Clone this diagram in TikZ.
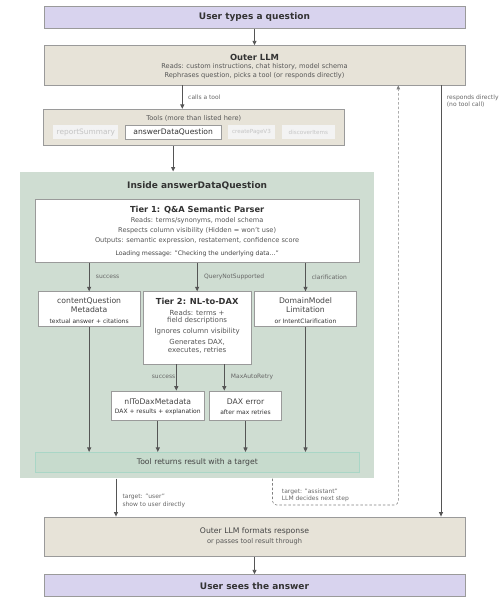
\documentclass[tikz,border=0pt]{standalone}
\usepackage{fontspec}
\setmainfont{DejaVu Sans}
\usetikzlibrary{arrows.meta}
\definecolor{lavfill}{HTML}{D8D3EE}
\definecolor{beigefill}{HTML}{E7E3D8}
\definecolor{greenfill}{HTML}{CFDDD2}
\definecolor{trfill}{HTML}{C7DBCD}
\definecolor{trborder}{HTML}{A9D6C6}
\definecolor{bordergray}{HTML}{9A9A9A}
\definecolor{linegray}{HTML}{555555}
\definecolor{titletext}{HTML}{333333}
\definecolor{maintext}{HTML}{444444}
\definecolor{bodytext}{HTML}{555555}
\definecolor{labeltext}{HTML}{666666}
\definecolor{chipfill}{HTML}{F3F3F3}
\definecolor{chiptext}{HTML}{C4C4C4}
\newcommand\fs[1]{\fontsize{#1}{#1}\selectfont}
\tikzset{
  box/.style={draw=bordergray, line width=0.8pt, inner sep=0pt},
  lavbox/.style={box, fill=lavfill},
  beigebox/.style={box, fill=beigefill},
  greenbox/.style={draw=none, fill=greenfill, inner sep=0pt},
  whitebox/.style={box, fill=white, line width=0.7pt},
  chip/.style={draw=none, fill=chipfill, inner sep=0pt},
  trbox/.style={draw=trborder, line width=0.7pt, fill=trfill, inner sep=0pt},
  bigtitle/.style={font=\fs{9}\bfseries, text=titletext, inner sep=0pt},
  tiertitle/.style={font=\fs{8.3}\bfseries, text=titletext, inner sep=0pt},
  mainline/.style={font=\fs{7.7}, text=maintext, inner sep=0pt},
  bodyline/.style={font=\fs{6.6}, text=bodytext, inner sep=0pt},
  subline/.style={font=\fs{6}, text=titletext, inner sep=0pt},
  lbl/.style={font=\fs{6}, text=labeltext, inner sep=0pt, anchor=west},
  arr/.style={draw=linegray, line width=0.9pt, -{Triangle[length=4.5pt,width=4pt]}},
  dasharr/.style={draw=gray, line width=0.6pt, dash pattern=on 2.5pt off 2pt, rounded corners=4pt, -{Triangle[length=4pt,width=3.5pt]}},
}
\begin{document}
\begin{tikzpicture}[x=1pt,y=-1pt]
\useasboundingbox (0,0) rectangle (503,616);
% top
\node[lavbox, minimum width=421pt, minimum height=21.6pt] (q) at (254.5,17.5) {};
\node[bigtitle] (qt) at (254.5,17.5) {User types a question};
% outer LLM
\node[beigebox, minimum width=421pt, minimum height=39.3pt] (outer) at (254.5,65.35) {};
\node[font=\fs{8.4}\bfseries, text=titletext, inner sep=0pt] (outert) at (254.5,57) {Outer LLM};
\node[bodyline] (outer1) at (254.5,66.7) {Reads: custom instructions, chat history, model schema};
\node[bodyline] (outer2) at (254.5,76) {Rephrases question, picks a tool (or responds directly)};
% tools
\node[beigebox, minimum width=300.3pt, minimum height=36.4pt] (tools) at (193.85,127.5) {};
\node[bodyline] (toolst) at (193.85,118.3) {Tools (more than listed here)};
\node[chip, minimum width=65pt, minimum height=14.3pt, font=\fs{7.4}, text=chiptext] (rs) at (85.8,132.15) {reportSummary};
\node[whitebox, minimum width=95.7pt, minimum height=14.3pt, font=\fs{7.6}, text=titletext] (adq) at (173.15,132.15) {answerDataQuestion};
\node[chip, minimum width=47pt, minimum height=14.3pt, font=\fs{5.6}, text=chiptext] (cp) at (251.5,132.15) {createPageV3};
\node[chip, minimum width=53.3pt, minimum height=14.3pt, font=\fs{5.6}, text=chiptext] (di) at (308.35,132.15) {discoverItems};
% green container
\node[greenbox, minimum width=354.3pt, minimum height=306.6pt] (green) at (197.15,325) {};
\node[bigtitle] (greent) at (197.15,186) {Inside answerDataQuestion};
% tier 1
\node[whitebox, minimum width=324.3pt, minimum height=63pt] (tier1) at (197.15,230.8) {};
\node[tiertitle] (tier1t) at (197.15,210) {Tier 1: Q\&A Semantic Parser};
\node[bodyline] (tier1a) at (197.15,221) {Reads: terms/synonyms, model schema};
\node[bodyline] (tier1b) at (197.15,230.7) {Respects column visibility (Hidden = won't use)};
\node[bodyline] (tier1c) at (197.15,240.7) {Outputs: semantic expression, restatement, confidence score};
\node[bodyline, font=\fs{6.2}, text=maintext] (tier1d) at (197.15,253.3) {Loading message: "Checking the underlying data..."};
% second row
\node[whitebox, minimum width=101.7pt, minimum height=35pt] (cqm) at (89.15,309.2) {};
\node[mainline] (cqma) at (89.15,301) {contentQuestion};
\node[mainline] (cqmb) at (89.15,309.6) {Metadata};
\node[subline] (cqmc) at (89.15,321) {textual answer + citations};
\node[whitebox, minimum width=107.7pt, minimum height=72.3pt] (tier2) at (197.15,327.85) {};
\node[tiertitle] (tier2t) at (197.15,301.7) {Tier 2: NL-to-DAX};
\node[bodyline, font=\fs{7}] (tier2a) at (197.15,313.3) {Reads: terms +};
\node[bodyline, font=\fs{7}] (tier2b) at (197.15,320.6) {field descriptions};
\node[bodyline, font=\fs{7}] (tier2c) at (197.15,331.2) {Ignores column visibility};
\node[bodyline, font=\fs{7}] (tier2d) at (197.15,342.5) {Generates DAX,};
\node[bodyline, font=\fs{7}] (tier2e) at (197.15,350) {executes, retries};
\node[whitebox, minimum width=102.4pt, minimum height=35pt] (dml) at (305.5,309.2) {};
\node[mainline] (dmla) at (305.5,301) {DomainModel};
\node[mainline] (dmlb) at (305.5,309.6) {Limitation};
\node[subline] (dmlc) at (305.5,321) {or IntentClarification};
% third row
\node[whitebox, minimum width=93pt, minimum height=29.3pt] (nl) at (157.8,405.65) {};
\node[mainline] (nla) at (157.8,401.3) {nlToDaxMetadata};
\node[subline] (nlb) at (157.8,412.3) {DAX + results + explanation};
\node[whitebox, minimum width=72.4pt, minimum height=29.3pt] (dax) at (245.5,405.65) {};
\node[mainline] (daxa) at (245.5,401.3) {DAX error};
\node[subline] (daxb) at (245.5,412.3) {after max retries};
% tool returns
\node[trbox, minimum width=324.7pt, minimum height=20.4pt] (tr) at (197.35,462.5) {};
\node[mainline] (trt) at (197.35,462.7) {Tool returns result with a target};
% formats
\node[beigebox, minimum width=421pt, minimum height=39.3pt] (fmt) at (254.5,536.65) {};
\node[mainline] (fmta) at (254.5,531.3) {Outer LLM formats response};
\node[bodyline] (fmtb) at (254.5,541.5) {or passes tool result through};
% answer
\node[lavbox, minimum width=421pt, minimum height=22pt] (ans) at (254.5,585.7) {};
\node[bigtitle] (anst) at (254.5,585.9) {User sees the answer};
% helper coordinates
\coordinate (xcall) at (182.3,0);
\coordinate (xdash) at (398.3,0);
\coordinate (xdir) at (441,0);
\coordinate (xuser) at (116,0);
\coordinate (xdashs) at (272.5,0);
\coordinate (ydash) at (0,505);
\coordinate (xt2s) at (176.3,0);
\coordinate (xt2r) at (224.3,0);
% connectors
\draw[arr] (q.south) -- (outer.north);
\draw[arr] (outer.south -| xcall) -- (tools.north -| xcall);
\node[lbl] (lcall) at (188,97.7) {calls a tool};
\draw[arr] (tools.south -| adq) -- (green.north -| adq);
\draw[arr] (tier1.south -| cqm) -- (cqm.north);
\draw[arr] (tier1.south) -- (tier2.north);
\draw[arr] (tier1.south -| dml) -- (dml.north);
\node[lbl] (ls1) at (95.7,277.3) {success};
\node[lbl] (lqns) at (204,277.3) {QueryNotSupported};
\node[lbl] (lclar) at (311.7,277.3) {clarification};
\draw[arr] (tier2.south -| xt2s) -- (nl.north -| xt2s);
\draw[arr] (tier2.south -| xt2r) -- (dax.north -| xt2r);
\node[lbl, anchor=east] (ls2) at (175.5,377.3) {success};
\node[lbl] (lmax) at (230.7,377.3) {MaxAutoRetry};
\draw[arr] (cqm.south) -- (tr.north -| cqm);
\draw[arr] (nl.south) -- (tr.north -| nl);
\draw[arr] (dax.south) -- (tr.north -| dax);
\draw[arr] (dml.south) -- (tr.north -| dml);
\draw[arr] (green.south -| xuser) -- (fmt.north -| xuser);
\node[lbl] (luser1) at (122.3,497.3) {target: "user"};
\node[lbl] (luser2) at (122.3,504.7) {show to user directly};
\draw[dasharr] (green.south -| xdashs) -- (ydash -| xdashs) -- (ydash -| xdash) -- (outer.south -| xdash);
\node[lbl] (lasst1) at (281.7,492.3) {target: "assistant"};
\node[lbl] (lasst2) at (281.7,499.2) {LLM decides next step};
\draw[arr] (outer.south -| xdir) -- (fmt.north -| xdir);
\node[lbl] (ldir1) at (446.7,97.7) {responds directly};
\node[lbl] (ldir2) at (446.7,105) {(no tool call)};
\draw[arr] (fmt.south) -- (ans.north);
\end{tikzpicture}
\end{document}
